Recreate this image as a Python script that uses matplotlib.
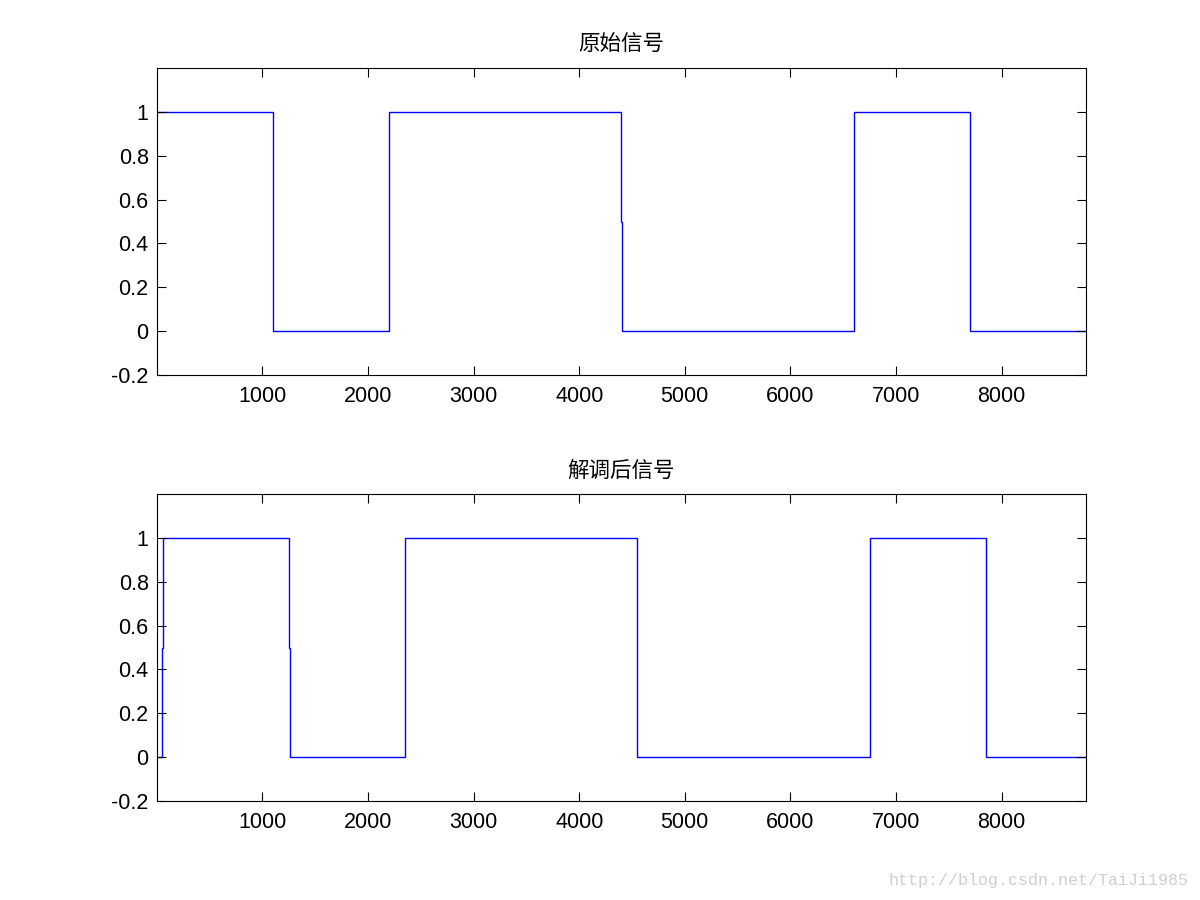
import matplotlib
matplotlib.use('Agg')
import matplotlib.pyplot as plt

plt.rcParams['font.family'] = ['Liberation Sans', 'Noto Sans CJK SC', 'DejaVu Sans']

# step signals: sample edges and the level held between them
orig_edges = [1, 1100, 2200, 4400, 4410, 6600, 7700, 8800]
orig_levels = [1, 0, 1, 0.5, 0, 1, 0]

demod_edges = [1, 45, 55, 1250, 1260, 2350, 4550, 6750, 7850, 8800]
demod_levels = [0, 0.5, 1, 0.5, 0, 1, 0, 1, 0]

titles = ['原始信号', '解调后信号']
xticks = [1000, 2000, 3000, 4000, 5000, 6000, 7000, 8000]
yticks = [-0.2, 0, 0.2, 0.4, 0.6, 0.8, 1]
ytick_labels = ['-0.2', '0', '0.2', '0.4', '0.6', '0.8', '1']

fig = plt.figure(figsize=(12, 9), dpi=100)
ax1 = fig.add_axes([0.1308, 0.5833, 0.7742, 0.3411])
ax2 = fig.add_axes([0.1308, 0.11, 0.7742, 0.3411])

for ax, edges, levels, title in [(ax1, orig_edges, orig_levels, titles[0]),
                                 (ax2, demod_edges, demod_levels, titles[1])]:
    ax.stairs(levels, edges, baseline=None, color='#0000ff', linewidth=1.0)
    ax.set_xlim(1, 8800)
    ax.set_ylim(-0.2, 1.2)
    ax.set_xticks(xticks)
    ax.set_xticklabels([str(v) for v in xticks])
    ax.set_yticks(yticks)
    ax.set_yticklabels(ytick_labels)
    ax.tick_params(direction='in', top=True, right=True, length=6.5,
                   width=0.8, labelsize=15.5)
    ax.tick_params(axis='x', pad=8)
    ax.tick_params(axis='y', pad=6)
    for s in ax.spines.values():
        s.set_linewidth(0.8)
    ax.set_title(title, fontsize=15.5, family=['Noto Sans CJK SC', 'DejaVu Sans'], pad=12)

fig.text(0.99, 0.022, 'http://blog.csdn.net/TaiJi1985', ha='right', va='center',
         fontsize=12, color='#cfcfcf', family='Liberation Mono')

fig.savefig('out.png', dpi=100, facecolor='white')
